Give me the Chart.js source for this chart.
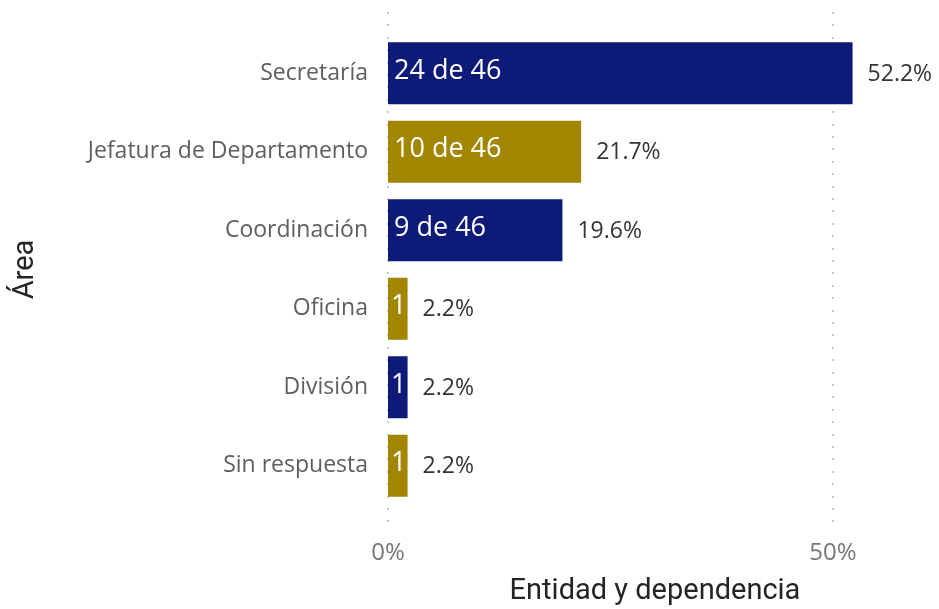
<!DOCTYPE html>
<html>
<head>
<meta charset="utf-8">
<script src="https://cdn.jsdelivr.net/npm/chart.js@4"></script>
<style>
html,body{margin:0;padding:0;background:#fff;}
#wrap{width:939px;height:609px;position:relative;}
</style>
</head>
<body>
<div id="wrap"><canvas id="c" width="939" height="609"></canvas></div>
<script>
const categories = ["Secretaría","Jefatura de Departamento","Coordinación","Oficina","División","Sin respuesta"];
const percentValues = [52.2, 21.7, 19.6, 2.2, 2.2, 2.2];
const counts = [24, 10, 9, 1, 1, 1];
const total = 46;
const xTicks = [0, 50];
const barColors = ["#0D1A77","#A38600","#0D1A77","#A38600","#0D1A77","#A38600"];

const labelFont = '"Open Sans", "Noto Sans", sans-serif';
const titleFont = 'Roboto, "Noto Sans", sans-serif';

const dottedGrid = {
  id: 'dottedGrid',
  beforeDatasetsDraw(chart) {
    const ctx = chart.ctx, xs = chart.scales.x, area = chart.chartArea;
    ctx.save();
    ctx.fillStyle = '#c8c8c8';
    xTicks.forEach(v => {
      const x = Math.round(xs.getPixelForValue(v));
      for (let y = area.top - 22; y <= area.bottom + 25; y += 12.4) {
        ctx.fillRect(x - 1, Math.round(y), 2, 2);
      }
    });
    ctx.restore();
  }
};

const barLabels = {
  id: 'barLabels',
  afterDatasetsDraw(chart) {
    const ctx = chart.ctx;
    const meta = chart.getDatasetMeta(0);
    ctx.save();
    ctx.textBaseline = 'middle';
    meta.data.forEach((bar, i) => {
      const left = Math.min(bar.base, bar.x);
      const w = Math.abs(bar.x - bar.base);
      ctx.font = '27px ' + labelFont;
      let t = counts[i] + ' de ' + total;
      if (ctx.measureText(t).width + 10 > w) t = String(counts[i]);
      ctx.fillStyle = '#ffffff';
      ctx.textAlign = 'left';
      ctx.fillText(t, left + (t.length > 2 ? 6 : 3), bar.y - 2);
      ctx.font = '23px ' + labelFont;
      ctx.fillStyle = '#333333';
      ctx.fillText(percentValues[i].toFixed(1) + '%', bar.x + 15, bar.y + 1);
    });
    ctx.restore();
  }
};

new Chart(document.getElementById('c'), {
  type: 'bar',
  data: {
    labels: categories,
    datasets: [{
      data: percentValues,
      backgroundColor: barColors,
      barPercentage: 0.79,
      categoryPercentage: 1.0
    }]
  },
  plugins: [dottedGrid, barLabels],
  options: {
    indexAxis: 'y',
    responsive: false,
    animation: false,
    layout: { padding: { top: 34, right: 17, left: 0, bottom: 0 } },
    plugins: { legend: { display: false }, tooltip: { enabled: false } },
    scales: {
      x: {
        min: 0, max: 60,
        afterBuildTicks: s => { s.ticks = xTicks.map(v => ({ value: v })); },
        afterFit: s => { s.height = 104; },
        grid: { display: false, drawTicks: false },
        border: { display: false },
        ticks: {
          padding: 34,
          color: '#777777',
          font: { family: labelFont, size: 24 },
          callback: v => v + '%'
        },
        title: {
          display: true,
          text: 'Entidad y dependencia',
          color: '#252423',
          font: { family: titleFont, size: 29, weight: 'normal' },
          padding: { top: 0, bottom: 0 }
        }
      },
      y: {
        afterFit: s => { s.width = 388; },
        grid: { display: false, drawTicks: false },
        border: { display: false },
        ticks: {
          padding: 20,
          color: '#605E5C',
          font: { family: labelFont, size: 23 }
        },
        title: {
          display: true,
          text: 'Área',
          color: '#252423',
          font: { family: titleFont, size: 29, weight: 'normal' },
          padding: { top: 8, bottom: 0 }
        }
      }
    }
  }
});
</script>
</body>
</html>
